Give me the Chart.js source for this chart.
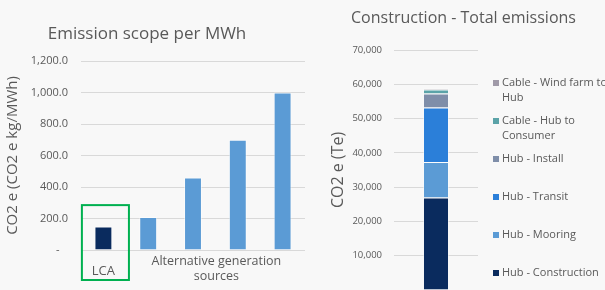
<!DOCTYPE html>
<html>
<head>
<meta charset="utf-8">
<script src="https://cdn.jsdelivr.net/npm/chart.js@4.4.1/dist/chart.umd.min.js"></script>
<style>
  html, body { margin: 0; padding: 0; background: #f8f8f8; }
  #wrap { position: relative; width: 605px; height: 290px; overflow: hidden; background: #f8f8f8; }
  #scope { position: absolute; left: 0; top: 0; }
  #total { position: absolute; left: 310px; top: 0; }
</style>
</head>
<body>
<div id="wrap">
  <canvas id="scope" width="310" height="290"></canvas>
  <canvas id="total" width="307" height="330"></canvas>
</div>
<script>
// left chart: emission per MWh
const scopeCategories = ['LCA', '', '', '', ''];
const scopeValues = [150, 210, 460, 700, 1000];
const groupLabel = ['Alternative generation', 'sources'];

// right chart: construction totals (stack order bottom -> top)
const stackSeries = ['Hub - Construction', 'Hub - Mooring', 'Hub - Transit', 'Hub - Install',
  'Cable - Hub to Consumer', 'Cable - Wind farm to Hub'];
const stackValues = [27000, 10300, 15900, 4100, 1200, 300];

const FONT = '"Open Sans", sans-serif';
const GREY = '#595959';
Chart.defaults.font.family = FONT;
Chart.defaults.color = GREY;

const scopeColors = ['#0a2b5e', '#5b9bd5', '#5b9bd5', '#5b9bd5', '#5b9bd5'];
const stackColors = ['#0a2b5e', '#5b9bd5', '#2b7fd9', '#7f8ea9', '#5ba3a8', '#a09aa8'];

// excel accounting style: zero shows as a dash
const dash = '-   ';

const heading = {
  id: 'heading',
  afterDraw(chart, args, opts) {
    const ctx = chart.ctx;
    ctx.save();
    ctx.font = opts.size + 'px ' + FONT;
    ctx.fillStyle = GREY;
    ctx.textAlign = 'center';
    ctx.textBaseline = 'middle';
    ctx.fillText(opts.text, opts.x, opts.y);
    ctx.restore();
  }
};

// green box round LCA + the group label under the other bars
const groupBox = {
  id: 'groupBox',
  afterDraw(chart) {
    const { ctx, chartArea } = chart;
    const x = chart.scales.x, y = chart.scales.y;
    const catW = x.width / scopeCategories.length;
    const c0 = x.getPixelForValue(0);
    ctx.save();
    ctx.strokeStyle = '#00b050';
    ctx.lineWidth = 2;
    const top = y.getPixelForValue(285);
    ctx.strokeRect(c0 - 0.48 * catW, top, 1.05 * catW, chartArea.bottom + 30 - top);

    const gx = (x.getPixelForValue(1) + x.getPixelForValue(scopeValues.length - 1)) / 2;
    ctx.fillStyle = GREY;
    ctx.font = '12.5px ' + FONT;
    ctx.textAlign = 'center';
    ctx.textBaseline = 'middle';
    groupLabel.forEach((t, i) => ctx.fillText(t, gx + 1, chartArea.bottom + 11 + i * 15));
    ctx.restore();
  }
};

function wrapText(ctx, text, maxWidth) {
  const words = text.split(' ');
  const lines = [];
  let line = '';
  words.forEach(w => {
    const test = line ? line + ' ' + w : w;
    if (line && ctx.measureText(test).width > maxWidth) {
      lines.push(line);
      line = w;
    } else {
      line = test;
    }
  });
  lines.push(line);
  return lines;
}

const sideLegend = {
  id: 'sideLegend',
  afterDraw(chart, args, opts) {
    const { ctx, chartArea } = chart;
    ctx.save();
    ctx.font = '11px ' + FONT;
    ctx.textBaseline = 'middle';
    ctx.textAlign = 'left';
    const items = chart.data.datasets.slice().reverse();
    items.forEach((ds, i) => {
      const y0 = chartArea.top + opts.offset + i * opts.spacing;
      ctx.fillStyle = ds.backgroundColor;
      ctx.fillRect(opts.x, y0 - 3, 6, 6);
      ctx.fillStyle = GREY;
      wrapText(ctx, ds.label, opts.maxWidth).forEach((line, j) => {
        ctx.fillText(line, opts.x + 9, y0 + j * 15);
      });
    });
    ctx.restore();
  }
};

new Chart(document.getElementById('scope'), {
  type: 'bar',
  data: {
    labels: scopeCategories,
    datasets: [{
      data: scopeValues,
      backgroundColor: scopeColors,
      borderColor: 'rgba(255,255,255,0.5)',
      borderWidth: 1,
      barPercentage: 0.4,
      categoryPercentage: 1
    }]
  },
  options: {
    responsive: false,
    animation: false,
    layout: { padding: { left: 0, right: 5, top: 61, bottom: 0 } },
    plugins: {
      legend: { display: false },
      tooltip: { enabled: false },
      heading: { text: 'Emission scope per MWh', size: 17, x: 147, y: 34 }
    },
    scales: {
      x: {
        grid: { display: false },
        border: { display: false },
        ticks: { font: { size: 13 }, padding: 5, maxRotation: 0, color: GREY },
        afterFit: s => { s.height = 40; }
      },
      y: {
        min: 0,
        max: 1200,
        grid: { color: '#d9d9d9', drawTicks: false },
        border: { display: false },
        ticks: {
          stepSize: 200,
          padding: 13,
          font: { size: 11 },
          color: GREY,
          callback: v => v === 0 ? dash : v.toLocaleString('en-US', { minimumFractionDigits: 1 })
        },
        title: { display: true, text: 'CO2 e (CO2 e kg/MWh)', font: { size: 15 }, color: GREY, padding: { top: 4, bottom: 0 } },
        afterFit: s => { s.width = 81; }
      }
    }
  },
  plugins: [heading, groupBox]
});

new Chart(document.getElementById('total'), {
  type: 'bar',
  data: {
    labels: ['Total'],
    datasets: stackSeries.map((name, i) => ({
      label: name,
      data: [stackValues[i]],
      backgroundColor: stackColors[i],
      borderColor: 'rgba(255,255,255,0.5)',
      borderWidth: 1,
      barPercentage: 0.31,
      categoryPercentage: 1
    }))
  },
  options: {
    responsive: false,
    animation: false,
    layout: { padding: { left: 15, right: 139, top: 50, bottom: 40 } },
    plugins: {
      legend: { display: false },
      tooltip: { enabled: false },
      heading: { text: 'Construction - Total emissions', size: 16, x: 153.5, y: 18 },
      sideLegend: { x: 183, offset: 33, spacing: 38, maxWidth: 112 }
    },
    scales: {
      x: { stacked: true, display: false },
      y: {
        stacked: true,
        min: 0,
        max: 70000,
        grid: { color: '#d9d9d9', drawTicks: false },
        border: { display: false },
        ticks: {
          stepSize: 10000,
          padding: 12,
          font: { size: 9.5 },
          color: GREY,
          callback: v => v === 0 ? dash : v.toLocaleString('en-US')
        },
        title: { display: true, text: 'CO2 e (Te)', font: { size: 16 }, color: GREY, padding: { top: 4, bottom: 0 } },
        afterFit: s => { s.width = 69; }
      }
    }
  },
  plugins: [heading, sideLegend]
});
</script>
</body>
</html>
